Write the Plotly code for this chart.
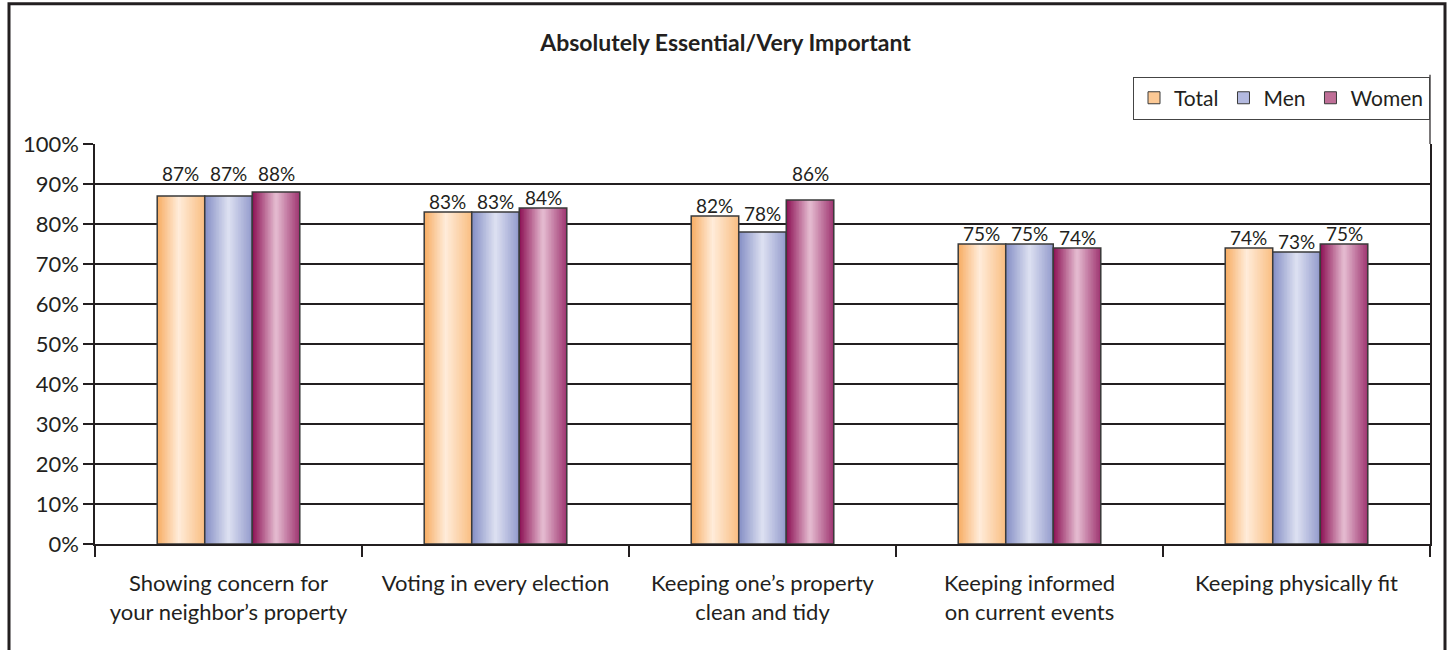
import plotly.graph_objects as go

# Survey results: share saying each activity is absolutely essential / very important
categories = [
    "Showing concern for<br>your neighbor’s property",
    "Voting in every election",
    "Keeping one’s property<br>clean and tidy",
    "Keeping informed<br>on current events",
    "Keeping physically fit",
]
total = [87, 83, 82, 75, 74]
men = [87, 83, 78, 75, 73]
women = [88, 84, 86, 74, 75]

series_names = ["Total", "Men", "Women"]
series_values = [total, men, women]

# Horizontal gradient stops (position, rgb) for each series: darker edges, light centre
gradients = [
    [(0.0, (247, 172, 98)), (0.45, (255, 236, 218)), (1.0, (249, 190, 130))],
    [(0.0, (132, 142, 196)), (0.5, (222, 225, 242)), (1.0, (146, 154, 204))],
    [(0.0, (140, 16, 84)), (0.5, (230, 190, 210)), (1.0, (158, 52, 112))],
]
legend_colors = ["#FCC995", "#B3B9DF", "#BF6F97"]

INK = "#231F20"
FONT = "Lato"

WIDTH, HEIGHT = 1451, 650
MARGIN = dict(l=95, r=21, t=143.5, b=105.5)
Y_MAX, Y_STEP = 100, 10


def grad_color(stops, t):
    for (p0, c0), (p1, c1) in zip(stops[:-1], stops[1:]):
        if p0 <= t <= p1:
            f = (t - p0) / (p1 - p0)
            r, g, b = (round(a + (bb - a) * f) for a, bb in zip(c0, c1))
            return f"rgb({r},{g},{b})"
    r, g, b = stops[-1][1]
    return f"rgb({r},{g},{b})"


bar_w = 0.178          # width of one bar in category units
group_start = -1.5 * bar_w
n_strips = 30
strip_w = bar_w / n_strips
px_per_cat = (WIDTH - MARGIN["l"] - MARGIN["r"]) / len(categories)
px_per_unit = (HEIGHT - MARGIN["t"] - MARGIN["b"]) / Y_MAX

LABEL_SIZE = 19
DIGIT_H = 14           # visible height of the digits, px
LABEL_GAP = 3          # space between label and bar / gridline, px
BASE_DROP = 6          # distance from annotation box bottom to digit baseline, px


def label_lift(v):
    """Pixels between the bar top and the label baseline, keeping the label
    clear of the horizontal gridlines."""
    lift = LABEL_GAP
    for g in range(Y_STEP, Y_MAX + 1, Y_STEP):
        gpx = (g - v) * px_per_unit          # gridline height above bar top
        if lift - 1 <= gpx <= lift + DIGIT_H + 1:
            lift = gpx + LABEL_GAP
    return lift


fig = go.Figure()

for s, (name, vals) in enumerate(zip(series_names, series_values)):
    start = group_start + s * bar_w
    # gradient fill made of narrow overlapping strips
    for k in range(n_strips):
        off = start + k * strip_w
        wdt = min(strip_w * 1.8, start + bar_w - off)
        fig.add_trace(go.Bar(
            x=categories, y=vals, offset=off, width=wdt,
            marker=dict(color=grad_color(gradients[s], (k + 0.5) / n_strips),
                        line=dict(width=0)),
            showlegend=False, hoverinfo="skip",
        ))
    # outline
    fig.add_trace(go.Bar(
        x=categories, y=vals, offset=start, width=bar_w,
        marker=dict(color="rgba(0,0,0,0)", line=dict(color="#3a3a3a", width=1.5)),
        showlegend=False, name=name,
    ))
    # value labels above each bar
    for cat, v in zip(categories, vals):
        fig.add_annotation(
            x=cat, y=v, xref="x", yref="y", text=f"{v}%", showarrow=False,
            xshift=(start + bar_w / 2) * px_per_cat,
            yanchor="bottom", yshift=label_lift(v) - BASE_DROP,
            font=dict(family=FONT, size=LABEL_SIZE, color=INK),
        )

# legend swatches
for name, col in zip(series_names, legend_colors):
    fig.add_trace(go.Bar(
        x=[None], y=[None], name=name,
        marker=dict(color=col, line=dict(color="#3a3a3a", width=1)),
    ))

fig.update_layout(
    width=WIDTH, height=HEIGHT,
    margin=MARGIN,
    barmode="overlay",
    paper_bgcolor="white", plot_bgcolor="white",
    font=dict(family=FONT, color=INK),
    title=dict(text="<b>Absolutely Essential/Very Important</b>",
               x=0.5, xref="container", xanchor="center",
               y=1 - 43 / 650, yref="container", yanchor="middle",
               font=dict(family=FONT, size=23, color=INK)),
    legend=dict(orientation="h", x=1, xanchor="right", y=1.061, yanchor="bottom",
                bordercolor="#444", borderwidth=1, bgcolor="white",
                font=dict(family=FONT, size=21, color=INK),
                itemwidth=30, traceorder="normal"),
    xaxis=dict(type="category", range=[-0.5, 4.5],
               showline=True, linecolor=INK, linewidth=1.5,
               ticks="outside", tickson="boundaries", ticklen=11,
               tickcolor=INK, tickwidth=1.5, ticklabelstandoff=19,
               tickfont=dict(family=FONT, size=22, color=INK),
               showgrid=False),
    yaxis=dict(range=[0, Y_MAX], dtick=Y_STEP, ticksuffix="%",
               showline=True, linecolor=INK, linewidth=1.5, mirror=True,
               ticks="outside", ticklen=10, tickcolor=INK, tickwidth=1.5,
               tickfont=dict(family=FONT, size=22, color=INK),
               showgrid=True, gridcolor=INK, gridwidth=1.5, zeroline=False),
)

# outer frame around the whole graphic
fig.add_shape(type="rect", xref="paper", yref="paper",
              x0=(9 - 95) / 1335, x1=(1445 - 95) / 1335,
              y0=(544.5 - 680) / 401, y1=(544.5 - 3) / 401,
              line=dict(color=INK, width=3), fillcolor="rgba(0,0,0,0)", layer="above")
# right-hand rule joining the legend box to the plot area
fig.add_shape(type="line", xref="paper", yref="paper",
              x0=1, x1=1, y0=1, y1=(544.5 - 74) / 401,
              line=dict(color=INK, width=1.2))

fig.write_html("out.html")
